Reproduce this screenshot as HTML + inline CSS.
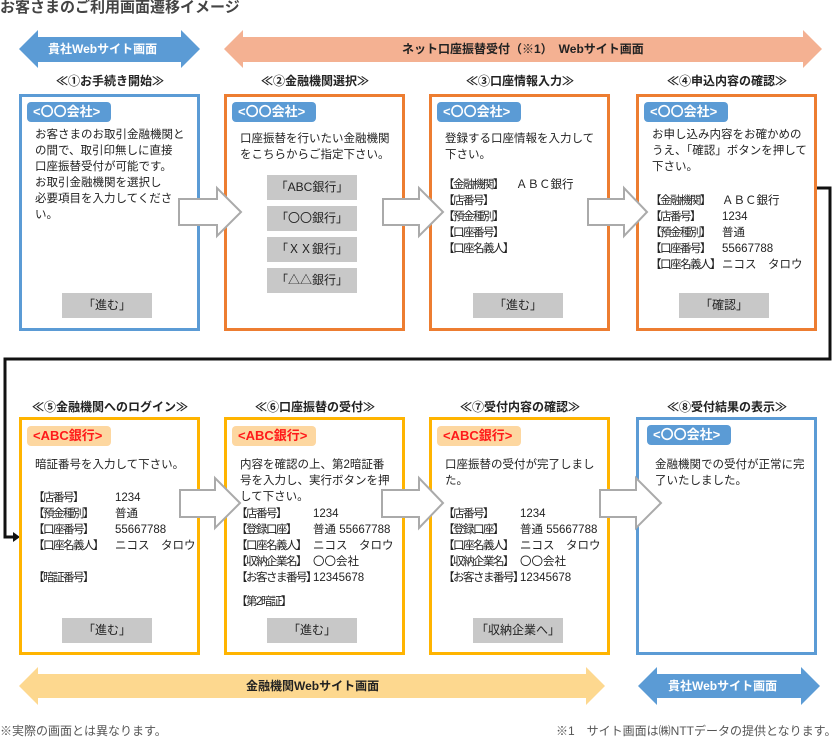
<!DOCTYPE html>
<html><head><meta charset="utf-8"><style>
*{margin:0;padding:0;box-sizing:border-box}
body{width:836px;height:737px;background:#fff;position:relative;overflow:hidden;font-family:"Liberation Sans","Noto Sans CJK JP",sans-serif;color:#222}
.a{position:absolute;white-space:nowrap;font-size:11.5px;line-height:16px}
.l{letter-spacing:-1.5px}
.box{position:absolute;border:3px solid}
.tb{position:absolute;height:20px;border-radius:4px;font-size:13px;line-height:20px;padding-left:6px;font-weight:bold}
.tb.b{background:#5b9bd5;color:#fff}
.tb.r{background:#fdd7a0;color:#ff1a1a}
.btn{position:absolute;background:#c8c8c8;font-size:12px;line-height:25px;height:25px;text-align:center}
.t{position:absolute;font-size:12px;font-weight:bold;white-space:nowrap;text-align:center}
</style></head><body>
<svg width="836" height="737" style="position:absolute;left:0;top:0">
<polygon points="19,49 38,30 38,37 181,37 181,30 200,49 181,68 181,62 38,62 38,68" fill="#5b9bd5"/>
<polygon points="224,49 243,30 243,37 803,37 803,30 822,49 803,68 803,62 243,62 243,68" fill="#f4b192"/>
<polygon points="19,686 38,667 38,674 586,674 586,667 605,686 586,705 586,698 38,698 38,705" fill="#fdd88f"/>
<polygon points="638,686 657,667 657,674 801,674 801,667 820,686 801,705 801,698 657,698 657,705" fill="#5b9bd5"/>
<polyline points="816,188 830,188 830,359 5,359 5,537 14,537" fill="none" stroke="#111" stroke-width="3"/>
<polygon points="13,532 20,537 13,542" fill="#111"/>
</svg>
<div class="a" style="left:0;top:0;font-size:15px;font-weight:bold;color:#444">お客さまのご利用画面遷移イメージ</div>
<div class="a" style="left:48px;top:41px;color:#fff;font-weight:bold;font-size:12px">貴社Webサイト画面</div>
<div class="a" style="left:402px;top:41px;font-weight:bold;font-size:12px">ネット口座振替受付（※1）　Webサイト画面</div>
<div class="a" style="left:246px;top:678px;font-weight:bold;font-size:12px">金融機関Webサイト画面</div>
<div class="a" style="left:668px;top:678px;color:#fff;font-weight:bold;font-size:12px">貴社Webサイト画面</div>
<div class="a" style="left:0;top:723px;color:#555;font-size:12px">※実際の画面とは異なります。</div>
<div class="a" style="left:556px;top:723px;color:#555;font-size:12px">※1　サイト画面は㈱NTTデータの提供となります。</div>

<div class="t" style="left:20px;top:72px;width:180px">≪①お手続き開始≫</div>
<div class="t" style="left:225px;top:72px;width:180px">≪②金融機関選択≫</div>
<div class="t" style="left:430px;top:72px;width:180px">≪③口座情報入力≫</div>
<div class="t" style="left:637px;top:72px;width:180px">≪④申込内容の確認≫</div>
<div class="t" style="left:20px;top:398px;width:180px">≪⑤金融機関へのログイン≫</div>
<div class="t" style="left:225px;top:398px;width:180px">≪⑥口座振替の受付≫</div>
<div class="t" style="left:430px;top:398px;width:180px">≪⑦受付内容の確認≫</div>
<div class="t" style="left:637px;top:398px;width:180px">≪⑧受付結果の表示≫</div>

<div class="box" style="left:19px;top:94px;width:181px;height:237px;border-color:#5b9bd5"></div>
<div class="box" style="left:224px;top:94px;width:181px;height:237px;border-color:#ed7d31"></div>
<div class="box" style="left:429px;top:94px;width:181px;height:237px;border-color:#ed7d31"></div>
<div class="box" style="left:636px;top:94px;width:181px;height:237px;border-color:#ed7d31"></div>
<div class="box" style="left:19px;top:417px;width:181px;height:238px;border-color:#ffb400"></div>
<div class="box" style="left:224px;top:417px;width:181px;height:238px;border-color:#ffb400"></div>
<div class="box" style="left:429px;top:417px;width:181px;height:238px;border-color:#ffb400"></div>
<div class="box" style="left:636px;top:417px;width:181px;height:238px;border-color:#5b9bd5"></div>

<div class="tb b" style="left:27px;top:102px;width:84px">&lt;〇〇会社&gt;</div>
<div class="tb b" style="left:232px;top:102px;width:84px">&lt;〇〇会社&gt;</div>
<div class="tb b" style="left:437px;top:102px;width:84px">&lt;〇〇会社&gt;</div>
<div class="tb b" style="left:644px;top:102px;width:84px">&lt;〇〇会社&gt;</div>
<div class="tb r" style="left:27px;top:426px;width:84px">&lt;ABC銀行&gt;</div>
<div class="tb r" style="left:232px;top:426px;width:84px">&lt;ABC銀行&gt;</div>
<div class="tb r" style="left:437px;top:426px;width:84px">&lt;ABC銀行&gt;</div>
<div class="tb b" style="left:647px;top:425px;width:84px">&lt;〇〇会社&gt;</div>

<div class="a" style="left:35px;top:127px">お客さまのお取引金融機関と<br>の間で、取引印無しに直接<br>口座振替受付が可能です。<br>お取引金融機関を選択し<br>必要項目を入力してくださ<br>い。</div>
<div class="btn" style="left:62px;top:293px;width:90px">「進む」</div>

<div class="a" style="left:240px;top:131px">口座振替を行いたい金融機関<br>をこちらからご指定下さい。</div>
<div class="btn" style="left:267px;top:175px;width:90px">「ABC銀行」</div>
<div class="btn" style="left:267px;top:206px;width:90px">「〇〇銀行」</div>
<div class="btn" style="left:267px;top:237px;width:90px">「ＸＸ銀行」</div>
<div class="btn" style="left:267px;top:268px;width:90px">「△△銀行」</div>

<div class="a" style="left:445px;top:131px">登録する口座情報を入力して<br>下さい。</div>
<div class="a l" style="left:443px;top:177px">【金融機関】<br>【店番号】<br>【預金種別】<br>【口座番号】<br>【口座名義人】</div>
<div class="a" style="left:516px;top:177px">ＡＢＣ銀行</div>
<div class="btn" style="left:473px;top:293px;width:90px">「進む」</div>

<div class="a" style="left:652px;top:127px">お申し込み内容をお確かめの<br>うえ、「確認」ボタンを押して<br>下さい。</div>
<div class="a l" style="left:650px;top:193px">【金融機関】<br>【店番号】<br>【預金種別】<br>【口座番号】<br>【口座名義人】</div>
<div class="a" style="left:722px;top:193px">ＡＢＣ銀行<br>1234<br>普通<br>55667788<br>ニコス　タロウ</div>
<div class="btn" style="left:679px;top:293px;width:90px">「確認」</div>

<div class="a" style="left:35px;top:457px">暗証番号を入力して下さい。</div>
<div class="a l" style="left:33px;top:490px">【店番号】<br>【預金種別】<br>【口座番号】<br>【口座名義人】<br><br>【暗証番号】</div>
<div class="a" style="left:115px;top:490px">1234<br>普通<br>55667788<br>ニコス　タロウ</div>
<div class="btn" style="left:62px;top:618px;width:90px">「進む」</div>

<div class="a" style="left:240px;top:457px">内容を確認の上、第2暗証番<br>号を入力し、実行ボタンを押<br>して下さい。</div>
<div class="a l" style="left:236px;top:506px">【店番号】<br>【登録口座】<br>【口座名義人】<br>【収納企業名】<br>【お客さま番号】</div>
<div class="a" style="left:313px;top:506px">1234<br>普通 55667788<br>ニコス　タロウ<br>〇〇会社<br>12345678</div>
<div class="a l" style="left:236px;top:594px">【第2暗証】</div>
<div class="btn" style="left:267px;top:618px;width:90px">「進む」</div>

<div class="a" style="left:445px;top:457px">口座振替の受付が完了しまし<br>た。</div>
<div class="a l" style="left:443px;top:506px">【店番号】<br>【登録口座】<br>【口座名義人】<br>【収納企業名】<br>【お客さま番号】</div>
<div class="a" style="left:520px;top:506px">1234<br>普通 55667788<br>ニコス　タロウ<br>〇〇会社<br>12345678</div>
<div class="btn" style="left:473px;top:618px;width:90px">「収納企業へ」</div>

<div class="a" style="left:655px;top:457px">金融機関での受付が正常に完<br>了いたしました。</div>

<svg width="836" height="737" style="position:absolute;left:0;top:0">
<g fill="#fff" stroke="#aaa" stroke-width="2">
<polygon points="179,199 217,199 217,188 241,212 217,236 217,225 179,225"/>
<polygon points="383,199 419,199 419,188 443,212 419,236 419,225 383,225"/>
<polygon points="588,199 624,199 624,188 647,212 624,236 624,225 588,225"/>
<polygon points="180,490 215,490 215,478 240,503 215,528 215,517 180,517"/>
<polygon points="382,490 419,490 419,478 443,503 419,528 419,517 382,517"/>
<polygon points="600,490 636,490 636,478 661,503 636,528 636,517 600,517"/>
</g></svg>
</body></html>
